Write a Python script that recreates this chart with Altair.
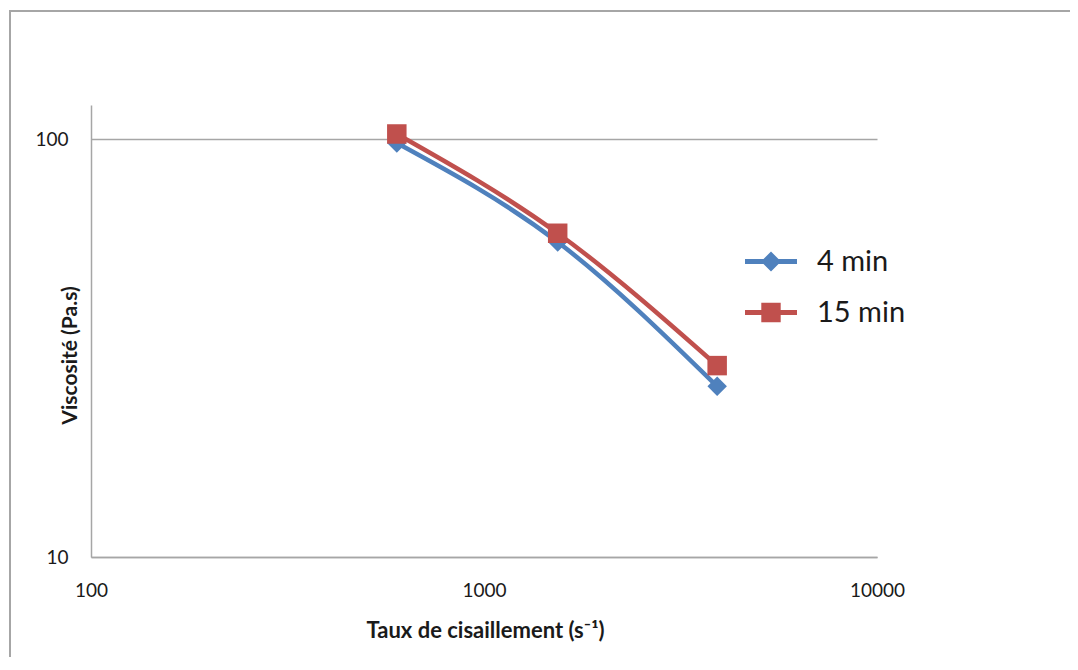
import altair as alt
import pandas as pd

# ---- data ----
shear_rate = [600, 1540, 3920]
visc_4min = [97.8, 56.7, 25.6]
visc_15min = [102.8, 59.5, 28.7]
series = ["4 min", "15 min"]
colors = ["#4F81BD", "#C0504D"]
shapes = ["diamond", "square"]
x_ticks = [100, 1000, 10000]
y_ticks = [10, 100]

rows = []
for s, vals in zip(series, [visc_4min, visc_15min]):
    for xv, yv in zip(shear_rate, vals):
        rows.append({"rate": xv, "visc": yv, "series": s})
df = pd.DataFrame(rows)

FONT = "Lato"
GRAY = "#A6A6A6"
TXT = "#1a1a1a"

xscale = alt.Scale(type="log", domain=[100, 10000], nice=False)
yscale = alt.Scale(type="log", domain=[10, 120.6], nice=False)
cscale = alt.Scale(domain=series, range=colors)

# legend glyphs: a line segment with the series marker on it
line_path = "M-2.6,-0.24H2.6V0.24H-2.6Z"
diamond_path = line_path + " M0,-1L1,0L0,1L-1,0Z"
square_path = line_path + " M-0.97,-0.97H0.97V0.97H-0.97Z"
lscale = alt.Scale(domain=series, range=[diamond_path, square_path])

xaxis = alt.Axis(
    values=x_ticks, format="d", ticks=False, grid=False, labelFlush=False,
    domainColor=GRAY, domainWidth=1.5,
    labelFont=FONT, labelFontSize=19, labelColor=TXT, labelPadding=24,
    title="Taux de cisaillement (s⁻¹)", titleFont=FONT, titleFontSize=22,
    titleFontWeight="bold", titleColor=TXT, titleX=394, titleY=73,
    titleBaseline="middle", titleAlign="center",
)
yaxis = alt.Axis(
    values=y_ticks, format="d", ticks=False, grid=True, labelFlush=False,
    gridColor=GRAY, gridWidth=1.4,
    domainColor=GRAY, domainWidth=1.5,
    labelFont=FONT, labelFontSize=19, labelColor=TXT, labelPadding=23,
    title="Viscosité (Pa.s)", titleFont=FONT, titleFontSize=21,
    titleFontWeight="bold", titleColor=TXT, titleX=-21, titleY=250,
    titleAngle=-90, titleBaseline="middle", titleAlign="center",
)

base = alt.Chart(df)

series_layers = []
for i, (s, col, shp) in enumerate(zip(series, colors, shapes)):
    sub = base.transform_filter(alt.datum.series == s)
    if i == 0:
        xenc = alt.X("rate:Q", scale=xscale, axis=xaxis)
        yenc = alt.Y("visc:Q", scale=yscale, axis=yaxis)
    else:
        xenc = alt.X("rate:Q", scale=xscale)
        yenc = alt.Y("visc:Q", scale=yscale)
    ln = sub.mark_line(strokeWidth=4.5, interpolate="monotone", color=col).encode(
        x=xenc, y=yenc)
    pt = sub.mark_point(filled=True, opacity=1, size=380, strokeWidth=0,
                        shape=shp, color=col).encode(
        x=alt.X("rate:Q", scale=xscale),
        y=alt.Y("visc:Q", scale=yscale),
    )
    series_layers += [ln, pt]

legend = alt.Legend(
    orient="none", legendX=665.5, legendY=142, title=None,
    symbolSize=400, symbolStrokeWidth=0, symbolOpacity=1,
    labelFont=FONT, labelFontSize=29, labelColor=TXT,
    labelOffset=31.5, symbolOffset=0, rowPadding=21, padding=0,
)

# legend-only layer: its marks are moved far outside the plot and clipped away
legend_layer = base.transform_calculate(hidden="datum.rate * 1000").mark_point(
    filled=True, opacity=1, size=400, strokeWidth=0, clip=True
).encode(
    x=alt.X("hidden:Q", scale=xscale),
    y=alt.Y("visc:Q", scale=yscale),
    color=alt.Color("series:N", scale=cscale, legend=legend),
    shape=alt.Shape("series:N", scale=lscale, legend=legend),
)

frame_df = pd.DataFrame({"k": [0]})
frame = alt.Chart(frame_df)
left_b = frame.mark_rule(color=GRAY, strokeWidth=2).encode(
    x=alt.value(-81), y=alt.value(-94), y2=alt.value(600))
top_b = frame.mark_rule(color=GRAY, strokeWidth=2).encode(
    x=alt.value(-82), x2=alt.value(985), y=alt.value(-94))

chart = alt.layer(left_b, top_b, *series_layers, legend_layer).properties(
    width=786, height=452,
    autosize=alt.AutoSizeParams(type="none"),
    padding={"left": 83, "top": 97, "right": 193, "bottom": 100},
    background="white",
).configure_view(stroke=None)

chart.save("out.html", embed_options={"renderer": "svg", "actions": False})
